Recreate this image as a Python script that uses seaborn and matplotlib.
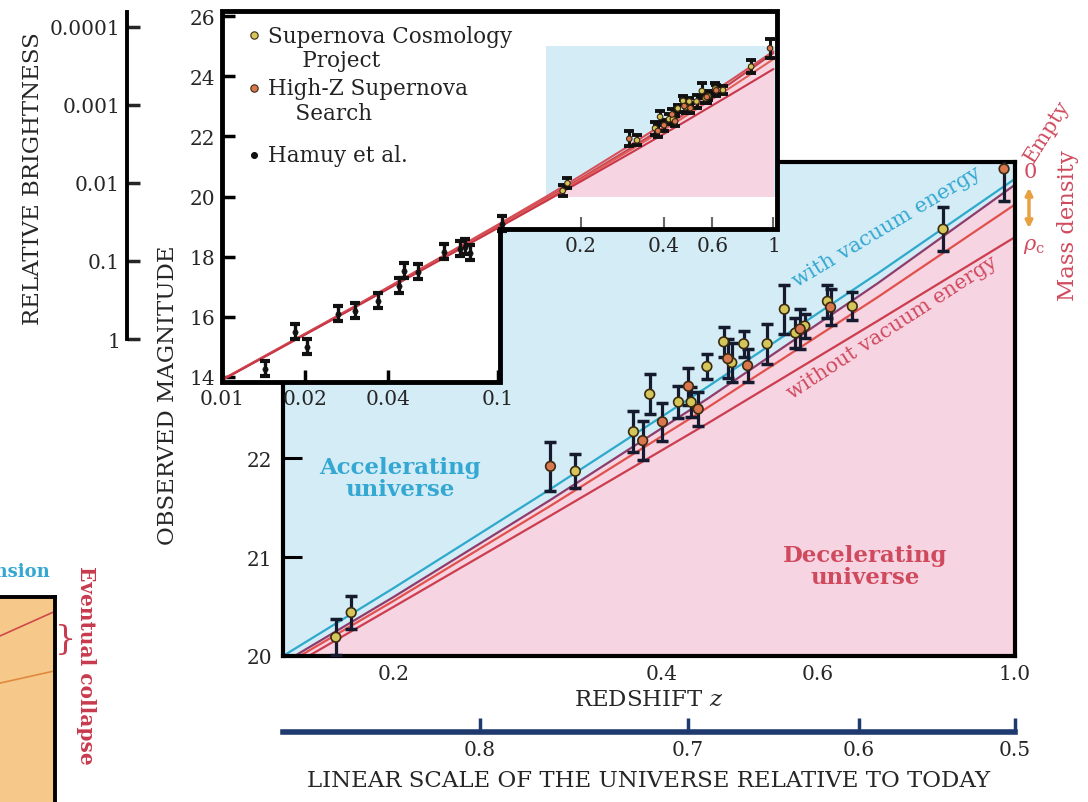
import numpy as np
import pandas as pd
import matplotlib
matplotlib.use("Agg")
import matplotlib.pyplot as plt
import seaborn as sns
from matplotlib.patches import Polygon
from matplotlib.ticker import NullLocator

# ---------------- data ----------------
# model curves: redshift z -> observed magnitude
model_z = [0.01, 0.03, 0.1, 0.15, 0.2, 0.3, 0.45, 0.7, 1.0]
mag_vacuum = [13.91, 16.33, 19.06, 20.00, 20.69, 21.69, 22.72, 23.87, 24.83]
mag_empty = [13.90, 16.31, 19.00, 19.93, 20.60, 21.58, 22.60, 23.77, 24.77]
mag_open = [13.90, 16.30, 18.98, 19.90, 20.56, 21.52, 22.51, 23.63, 24.57]
mag_critical = [13.89, 16.29, 18.95, 19.85, 20.50, 21.42, 22.35, 23.39, 24.24]

# Supernova Cosmology Project
scp_z = [0.172, 0.179, 0.320, 0.372, 0.388, 0.418, 0.432, 0.450, 0.470,
         0.480, 0.495, 0.526, 0.550, 0.566, 0.580, 0.615, 0.656, 0.830]
scp_mag = [20.19, 20.44, 21.87, 22.27, 22.65, 22.57, 22.57, 22.93, 23.18,
           22.97, 23.16, 23.16, 23.51, 23.27, 23.34, 23.59, 23.54, 24.32]
scp_err = [0.18, 0.17, 0.17, 0.21, 0.20, 0.16, 0.15, 0.13, 0.15,
           0.20, 0.13, 0.20, 0.25, 0.15, 0.12, 0.17, 0.14, 0.22]

# High-Z Supernova Search
hzs_z = [0.300, 0.381, 0.401, 0.429, 0.440, 0.475, 0.500, 0.573, 0.620, 0.972]
hzs_mag = [21.92, 22.18, 22.37, 22.73, 22.50, 23.01, 22.94, 23.31, 23.53, 24.93]
hzs_err = [0.25, 0.20, 0.19, 0.19, 0.17, 0.20, 0.17, 0.20, 0.18, 0.32]

# Hamuy et al. (low redshift)
hamuy_z = [0.0143, 0.0184, 0.0203, 0.0263, 0.0304, 0.0368, 0.0439, 0.0457,
           0.0515, 0.0636, 0.0730, 0.0762, 0.0795, 0.1038]
hamuy_mag = [14.27, 15.50, 15.00, 16.10, 16.20, 16.53, 17.03, 17.53,
             17.50, 18.16, 18.26, 18.33, 18.13, 19.09]
hamuy_err = [0.25] * len(hamuy_z)

main_zlim = (0.15, 1.0)
main_mlim = (20, 25)
main_zticks = [0.2, 0.4, 0.6, 1.0]
main_zticklabels = ["0.2", "0.4", "0.6", "1.0"]
main_mticks = [20, 21, 22]
inset_zticks_low = [0.01, 0.02, 0.04, 0.1]
inset_zticklabels_low = ["0.01", "0.02", "0.04", "0.1"]
inset_zticks_high = [0.2, 0.4, 0.6, 1.0]
inset_zticklabels_high = ["0.2", "0.4", "0.6", "1"]
inset_mticks = [14, 16, 18, 20, 22, 24, 26]
scale_ticks = [0.8, 0.7, 0.6, 0.5]
scale_ticklabels = ["0.8", "0.7", "0.6", "0.5"]
bright_ticks = [1e-4, 1e-3, 1e-2, 1e-1, 1]
bright_ticklabels = ["0.0001", "0.001", "0.01", "0.1", "1"]

legend_labels = ["Supernova Cosmology\n     Project", "High-Z Supernova\n    Search", "Hamuy et al."]

# fragment of neighbouring figure
frag_x = [0.0, 0.5, 1.0]
frag_red = [0.81, 0.87, 0.93]
frag_orange = [0.58, 0.61, 0.64]

# ---------------- style ----------------
sns.set_theme(style="white")
plt.rcParams['font.family'] = ['DejaVu Serif']
plt.rcParams['mathtext.fontset'] = 'dejavuserif'

BLUE = '#d3ecf6'
PINK = '#f6d4e2'
C_SCP = '#d5c65a'
C_HZS = '#d9774e'
C_EDGE = '#3b2a12'
C_ERR = '#151a2e'
C_CYAN = '#2ea9cc'
C_EMPTY = '#8c3d6c'
C_OPEN = '#e0514c'
C_CRIT = '#cc3d4e'
TXT_RED = '#d04a5e'
TXT_BLUE = '#34a8d2'
LABEL_FS = 16.5
TICK_FS = 14.5

models = pd.concat([
    pd.DataFrame({'z': model_z, 'mag': mag_vacuum, 'model': 'vacuum'}),
    pd.DataFrame({'z': model_z, 'mag': mag_empty, 'model': 'empty'}),
    pd.DataFrame({'z': model_z, 'mag': mag_open, 'model': 'open'}),
    pd.DataFrame({'z': model_z, 'mag': mag_critical, 'model': 'critical'}),
])
sn = pd.concat([
    pd.DataFrame({'z': scp_z, 'mag': scp_mag, 'err': scp_err, 'series': 'SCP'}),
    pd.DataFrame({'z': hzs_z, 'mag': hzs_mag, 'err': hzs_err, 'series': 'HZS'}),
])
hamuy = pd.DataFrame({'z': hamuy_z, 'mag': hamuy_mag, 'err': hamuy_err})

W, H = 1088, 803
fig = plt.figure(figsize=(W / 100, H / 100), dpi=100)
fig.patch.set_facecolor('white')


def fbox(x0, y0, x1, y1):
    return [x0 / W, 1 - y1 / H, (x1 - x0) / W, (y1 - y0) / H]


# ---------------- main axes ----------------
ax = fig.add_axes(fbox(283, 163, 1015, 657))
ax.set_xscale('log')
ax.set_facecolor(BLUE)
ax.fill_between(model_z, 19.0, mag_empty, color=PINK, lw=0, zorder=0)
sns.lineplot(data=models, x='z', y='mag', hue='model',
             palette={'vacuum': C_CYAN, 'empty': C_EMPTY, 'open': C_OPEN, 'critical': C_CRIT},
             estimator=None, sort=False, legend=False, linewidth=1.6, ax=ax, zorder=2)
ax.errorbar(sn['z'], sn['mag'], yerr=sn['err'], fmt='none', ecolor=C_ERR,
            elinewidth=2.3, capsize=4.5, capthick=2.5, zorder=3)
sns.scatterplot(data=sn, x='z', y='mag', hue='series', palette={'SCP': C_SCP, 'HZS': C_HZS},
                s=48, edgecolor=C_EDGE, linewidth=1.2, legend=False, ax=ax, zorder=4)
ax.set_xlim(*main_zlim)
ax.set_ylim(*main_mlim)
ax.set_xticks(main_zticks)
ax.set_xticklabels(main_zticklabels)
ax.xaxis.set_minor_locator(NullLocator())
ax.set_yticks(main_mticks)
ax.tick_params(axis='x', direction='in', length=12, width=1.5, color='#888888',
               labelsize=TICK_FS, pad=6)
ax.tick_params(axis='y', direction='in', length=14, width=2.2, color='black',
               labelsize=TICK_FS, pad=8, left=True)
for s in ax.spines.values():
    s.set_linewidth(3)
    s.set_color('black')
ax.set_xlabel("REDSHIFT $z$", fontsize=LABEL_FS, labelpad=3)
ax.set_ylabel("OBSERVED MAGNITUDE", fontsize=LABEL_FS)
ax.yaxis.set_label_coords(-0.142, 0.53)

ax.text(0.16, 0.36, "Accelerating\nuniverse", transform=ax.transAxes, ha='center',
        va='center', fontsize=16.5, fontweight='bold', color=TXT_BLUE, linespacing=1.0)
ax.text(0.795, 0.182, "Decelerating\nuniverse", transform=ax.transAxes, ha='center',
        va='center', fontsize=16.5, fontweight='bold', color=TXT_RED, linespacing=1.0)
ax.text(0.825, 0.87, "with vacuum energy", transform=ax.transAxes, ha='center',
        va='center', fontsize=15, color=TXT_BLUE, rotation=31, rotation_mode='anchor')
ax.text(0.832, 0.666, "without vacuum energy", transform=ax.transAxes, ha='center',
        va='center', fontsize=14.8, color=TXT_RED, rotation=33, rotation_mode='anchor')

# scale-factor axis
sec = ax.secondary_xaxis(-0.154, functions=(lambda z: 1 / (1 + z), lambda a: 1 / a - 1))
sec.set_xticks(scale_ticks)
sec.set_xticklabels(scale_ticklabels)
sec.xaxis.set_minor_locator(NullLocator())
sec.spines['bottom'].set_color('#1f3a6e')
sec.spines['bottom'].set_linewidth(4)
sec.tick_params(direction='in', length=10, width=2.5, color='#1f3a6e', labelsize=TICK_FS, pad=6)
sec.set_xlabel("LINEAR SCALE OF THE UNIVERSE RELATIVE TO TODAY", fontsize=LABEL_FS, labelpad=7)

# right-side annotations
fig.text(1024 / W, 1 - 172 / H, "0", color=TXT_RED, fontsize=15, ha='left', va='center')
fig.text(1037 / W, 1 - 166 / H, "Empty", color=TXT_RED, fontsize=15, ha='left',
         va='bottom', rotation=58, rotation_mode='anchor')
fig.text(1023 / W, 1 - 247 / H, r"$\rho_{\rm c}$", color=TXT_RED, fontsize=15, ha='left', va='center')
ax.annotate('', xy=(1029 / W, 1 - 232 / H), xytext=(1029 / W, 1 - 186 / H),
            xycoords='figure fraction', textcoords='figure fraction',
            arrowprops=dict(arrowstyle='<->', color='#e8a040', lw=2.5, mutation_scale=10))
fig.text(1068 / W, 1 - 226 / H, "Mass density", color=TXT_RED, fontsize=16.4,
         ha='center', va='center', rotation=90)

# ---------------- inset ----------------
axi = fig.add_axes(fbox(222, 12, 777, 383))
axi.set_xscale('log')
axi.set_xlim(0.01, 1.03)
axi.set_ylim(13.83, 26.17)
axi.patch.set_visible(False)
for s in axi.spines.values():
    s.set_visible(False)
cx, cy = 0.501, 0.412
shape = [(0, 0), (cx, 0), (cx, cy), (1, cy), (1, 1), (0, 1)]
axi.add_patch(Polygon(shape, closed=True, transform=axi.transAxes, facecolor='white',
                      edgecolor='none', zorder=0))
axi.fill_between([main_zlim[0], 1.03], main_mlim[0], main_mlim[1], color=BLUE, lw=0, zorder=1)
zz = np.array(model_z)
me = np.array(mag_empty)
sel = zz >= main_zlim[0]
axi.fill_between(zz[sel], main_mlim[0], me[sel], where=me[sel] >= main_mlim[0],
                 interpolate=True, color=PINK, lw=0, zorder=1)
sns.lineplot(data=models, x='z', y='mag', hue='model',
             palette={'vacuum': '#d8505a', 'empty': '#c8404e', 'open': '#e06058', 'critical': '#c83848'},
             estimator=None, sort=False, legend=False, linewidth=1.5, ax=axi, zorder=2)
axi.errorbar(hamuy['z'], hamuy['mag'], yerr=hamuy['err'], fmt='none', ecolor='#111111',
             elinewidth=2.4, capsize=3.5, capthick=3.0, zorder=3)
sns.scatterplot(data=hamuy, x='z', y='mag', color='#111111', s=14, edgecolor='#111111',
                linewidth=0.5, legend=False, ax=axi, zorder=4)
axi.errorbar(sn['z'], sn['mag'], yerr=sn['err'], fmt='none', ecolor='#111111',
             elinewidth=2.2, capsize=3.5, capthick=2.8, zorder=3)
sns.scatterplot(data=sn, x='z', y='mag', hue='series', palette={'SCP': C_SCP, 'HZS': C_HZS},
                s=16, edgecolor=C_EDGE, linewidth=0.8, legend=False, ax=axi, zorder=4)
axi.add_patch(Polygon(shape, closed=True, transform=axi.transAxes, facecolor='none',
                      edgecolor='black', lw=3.5, zorder=10, clip_on=False))
axi.set_xticks(inset_zticks_low)
axi.set_xticklabels(inset_zticklabels_low)
axi.xaxis.set_minor_locator(NullLocator())
axi.set_yticks(inset_mticks)
axi.tick_params(direction='in', length=9, width=2.5, color='black', labelsize=TICK_FS, pad=5,
                left=True, bottom=True)
axi.set_xlabel('')
axi.set_ylabel('')
seci = axi.secondary_xaxis(cy)
seci.set_xticks(inset_zticks_high)
seci.set_xticklabels(inset_zticklabels_high)
seci.xaxis.set_minor_locator(NullLocator())
for s in seci.spines.values():
    s.set_visible(False)
seci.tick_params(direction='in', length=9, width=1.5, color='#666666', labelsize=TICK_FS, pad=5)

# legend inside inset
leg_colors = [C_SCP, C_HZS, '#111111']
leg_marker_y = [0.935, 0.792, 0.612]
leg_text_y = [0.900, 0.759, 0.612]
for lab, col, my, ty in zip(legend_labels, leg_colors, leg_marker_y, leg_text_y):
    axi.scatter([0.058], [my], s=28 if col != '#111111' else 18, color=col,
                edgecolor=C_EDGE if col != '#111111' else col,
                linewidth=0.8, transform=axi.transAxes, zorder=11)
    axi.text(0.083, ty, lab, transform=axi.transAxes, ha='left', va='center',
             fontsize=15.5, color='#222222', linespacing=1.15, zorder=11)

# ---------------- relative brightness axis ----------------
axb = fig.add_axes(fbox(127, 13, 160, 340))
axb.set_yscale('log')
axb.set_ylim(1, 10 ** -4.19)
axb.set_yticks(bright_ticks)
axb.set_yticklabels(bright_ticklabels)
axb.yaxis.set_minor_locator(NullLocator())
axb.set_xticks([])
axb.patch.set_visible(False)
for k, s in axb.spines.items():
    s.set_visible(k == 'left')
axb.spines['left'].set_linewidth(2.8)
axb.spines['left'].set_color('black')
axb.tick_params(axis='y', direction='in', length=9, width=2.5, labelsize=TICK_FS, pad=5, left=True)
axb.set_ylabel("RELATIVE BRIGHTNESS", fontsize=LABEL_FS)
axb.yaxis.set_label_coords(-2.5, 0.495)

# ---------------- fragment of neighbouring panel ----------------
axf = fig.add_axes(fbox(0, 598, 55, 803))
axf.set_facecolor('#f6c98a')
axf.plot(frag_x, frag_red, color='#d04848', lw=1.2)
axf.plot(frag_x, frag_orange, color='#e08a40', lw=1.2)
axf.set_xlim(0, 1)
axf.set_ylim(0, 1)
axf.set_xticks([])
axf.set_yticks([])
for k, s in axf.spines.items():
    s.set_visible(k in ('top', 'right'))
    s.set_linewidth(2.8)
    s.set_color('black')
fig.text(50 / W, 1 - 572 / H, "expansion", color=TXT_BLUE, fontsize=13, fontweight='bold',
         ha='right', va='center')
fig.text(55 / W, 1 - 640 / H, "}", color='#c83a4e', fontsize=24, ha='left', va='center')
fig.text(86 / W, 1 - 665 / H, "Eventual collapse", color='#c83a4e', fontsize=14.5,
         fontweight='bold', ha='center', va='center', rotation=-90)

fig.savefig("out.png", dpi=100, facecolor='white')
